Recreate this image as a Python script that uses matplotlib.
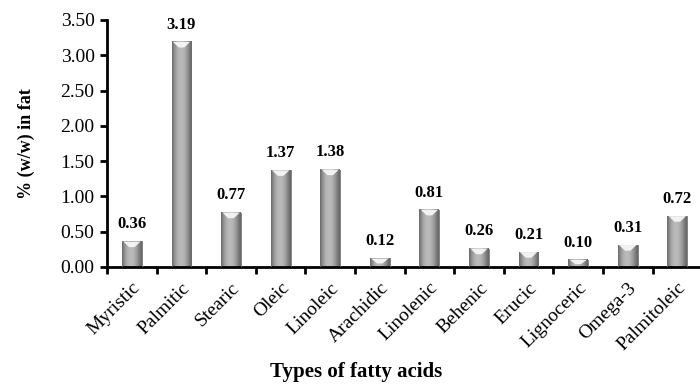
import matplotlib.pyplot as plt
import numpy as np
from matplotlib.patches import Polygon

acids = ['Myristic', 'Palmitic', 'Stearic', 'Oleic', 'Linoleic', 'Arachidic',
         'Linolenic', 'Behenic', 'Erucic', 'Lignoceric', 'Omega-3', 'Palmitoleic']
content = [0.36, 3.19, 0.77, 1.37, 1.38, 0.12, 0.81, 0.26, 0.21, 0.10, 0.31, 0.72]
yticks = [0.0, 0.5, 1.0, 1.5, 2.0, 2.5, 3.0, 3.5]

plt.rcParams['font.family'] = ['Liberation Serif', 'DejaVu Serif']

fig = plt.figure(figsize=(7.0, 3.84), dpi=100)
ax = fig.add_axes([0.153, 0.305, 0.85, 0.643])

x = np.arange(len(acids))
bars = ax.bar(x, content, width=0.4, color='none', edgecolor='none', zorder=2)

# cylinder-like shading across each bar
shade = np.array([0.45, 0.56, 0.64, 0.69, 0.72, 0.73, 0.72, 0.69, 0.64, 0.57, 0.49, 0.41])
grad = shade[np.newaxis, :]
bevel = 0.08
for b in bars:
    x0, w, h = b.get_x(), b.get_width(), b.get_height()
    ax.imshow(grad, extent=(x0, x0 + w, 0, h), cmap='gray', vmin=0, vmax=1,
              aspect='auto', interpolation='bicubic', zorder=2)
    ax.add_patch(plt.Rectangle((x0, 0), w, h, fill=False, edgecolor='#6e6e6e',
                               linewidth=0.6, zorder=3))
    bh = min(bevel, h * 0.6)
    ax.add_patch(Polygon([(x0 + w * 0.06, h), (x0 + w * 0.94, h),
                          (x0 + w * 0.64, h - bh), (x0 + w * 0.36, h - bh)],
                         closed=True, facecolor='#f6f6f6', edgecolor='none',
                         alpha=0.95, zorder=3))
    ax.text(b.get_x() + w / 2, h + 0.13, '%.2f' % h, ha='center', va='bottom',
            fontsize=12, fontweight='bold')

ax.set_xlim(-0.5, len(acids) - 0.5)
ax.set_ylim(0, 3.5)
ax.set_yticks(yticks)
ax.set_yticklabels(['%.2f' % v for v in yticks], fontsize=14)
ax.set_xticks(np.arange(len(acids) + 1) - 0.5)
ax.set_xticklabels([])
ax.set_xticks(x, minor=True)
ax.set_xticklabels(acids, minor=True, rotation=45, ha='right',
                   rotation_mode='anchor', fontsize=14)
ax.tick_params(axis='x', which='minor', length=0, pad=9)
ax.tick_params(axis='x', which='major', direction='out', length=5, width=2)
ax.tick_params(axis='y', direction='out', length=5, width=2, pad=4)

for side in ['top', 'right']:
    ax.spines[side].set_visible(False)
for side in ['left', 'bottom']:
    ax.spines[side].set_linewidth(2)

ax.set_ylabel('% (w/w) in fat', fontsize=13, fontweight='bold', labelpad=18)
fig.text(0.509, 0.018, 'Types of fatty acids', ha='center', va='baseline',
         fontsize=15, fontweight='bold')

fig.savefig('out.png', dpi=100)
